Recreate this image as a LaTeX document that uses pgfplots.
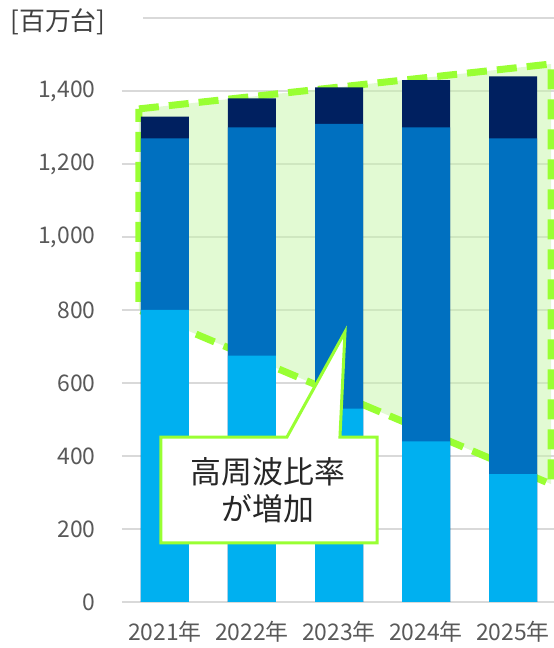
\documentclass[border=0pt]{standalone}
\usepackage{fontspec}
\setmainfont{Noto Sans CJK JP}
\usepackage{pgfplots}
\pgfplotsset{compat=1.18}
\definecolor{lb}{HTML}{00B0F0}
\definecolor{mb}{HTML}{0070C0}
\definecolor{nb}{HTML}{002060}
\definecolor{lime}{HTML}{99FF33}
\definecolor{limefill}{HTML}{C6F5A8}
\definecolor{gridc}{HTML}{D9D9D9}
\definecolor{tickc}{HTML}{595959}
\begin{document}
\begin{tikzpicture}
\begin{axis}[
  name=ax, scale only axis, width=432bp, height=584bp,
  xmin=-0.494, xmax=4.471, ymin=0, ymax=1600,
  axis line style={draw=none},
  major tick length=0pt,
  ymajorgrids, grid style={draw=gridc, line width=1.5bp},
  xtick={0,1,2,3,4},
  xticklabels={2021年,2022年,2023年,2024年,2025年},
  ytick={0,200,...,1400},
  /pgf/number format/assume math mode=true,
  /pgf/number format/1000 sep={,},
  tick label style={font=\fontsize{23}{27}\selectfont, text=tickc},
  yticklabel style={anchor=east, xshift=-23bp},
  xticklabel style={anchor=north, yshift=-16bp},
  clip=true,
]
% green highlighted region (behind bars)
\addplot[draw=lime, line width=7bp, dash pattern=on 20bp off 10bp, fill=limefill, fill opacity=0.5]
  coordinates {(-0.299,1351) (4.437,1474) (4.437,323) (-0.299,800)} -- cycle;
% totals (navy top segment)
\addplot[ybar, bar width=48bp, bar shift=0pt, fill=nb, draw=none]
  coordinates {(0,1330) (1,1380) (2,1410) (3,1430) (4,1440)};
% cumulative to top of middle segment
\addplot[ybar, bar width=48bp, bar shift=0pt, fill=mb, draw=none]
  coordinates {(0,1270) (1,1300) (2,1310) (3,1300) (4,1270)};
% bottom segment
\addplot[ybar, bar width=48bp, bar shift=0pt, fill=lb, draw=none]
  coordinates {(0,800) (1,675) (2,530) (3,440) (4,350)};
% callout
\draw[draw=lime, line width=3bp, fill=white, line join=miter]
  (axis cs:-0.046,452) -- (axis cs:1.402,452) -- (axis cs:2.069,740) -- (axis cs:2.011,452)
  -- (axis cs:2.437,452) -- (axis cs:2.437,162) -- (axis cs:-0.046,162) -- cycle;
\node[align=center, font=\fontsize{31}{37}\selectfont, text=black!85] at (axis cs:1.184,307) {高周波比率\\が増加};
\end{axis}
\draw[gridc, line width=1.5bp] ([xshift=21bp]ax.north west) -- (ax.north east);
\node[font=\fontsize{26}{30}\selectfont, text=black!75] at ([xshift=-64bp,yshift=-4bp]ax.north west) {[百万台]};
\pgfresetboundingbox
\path ([xshift=-122bp,yshift=-46bp]ax.south west) rectangle ([yshift=18bp]ax.north east);
\end{tikzpicture}
\end{document}
